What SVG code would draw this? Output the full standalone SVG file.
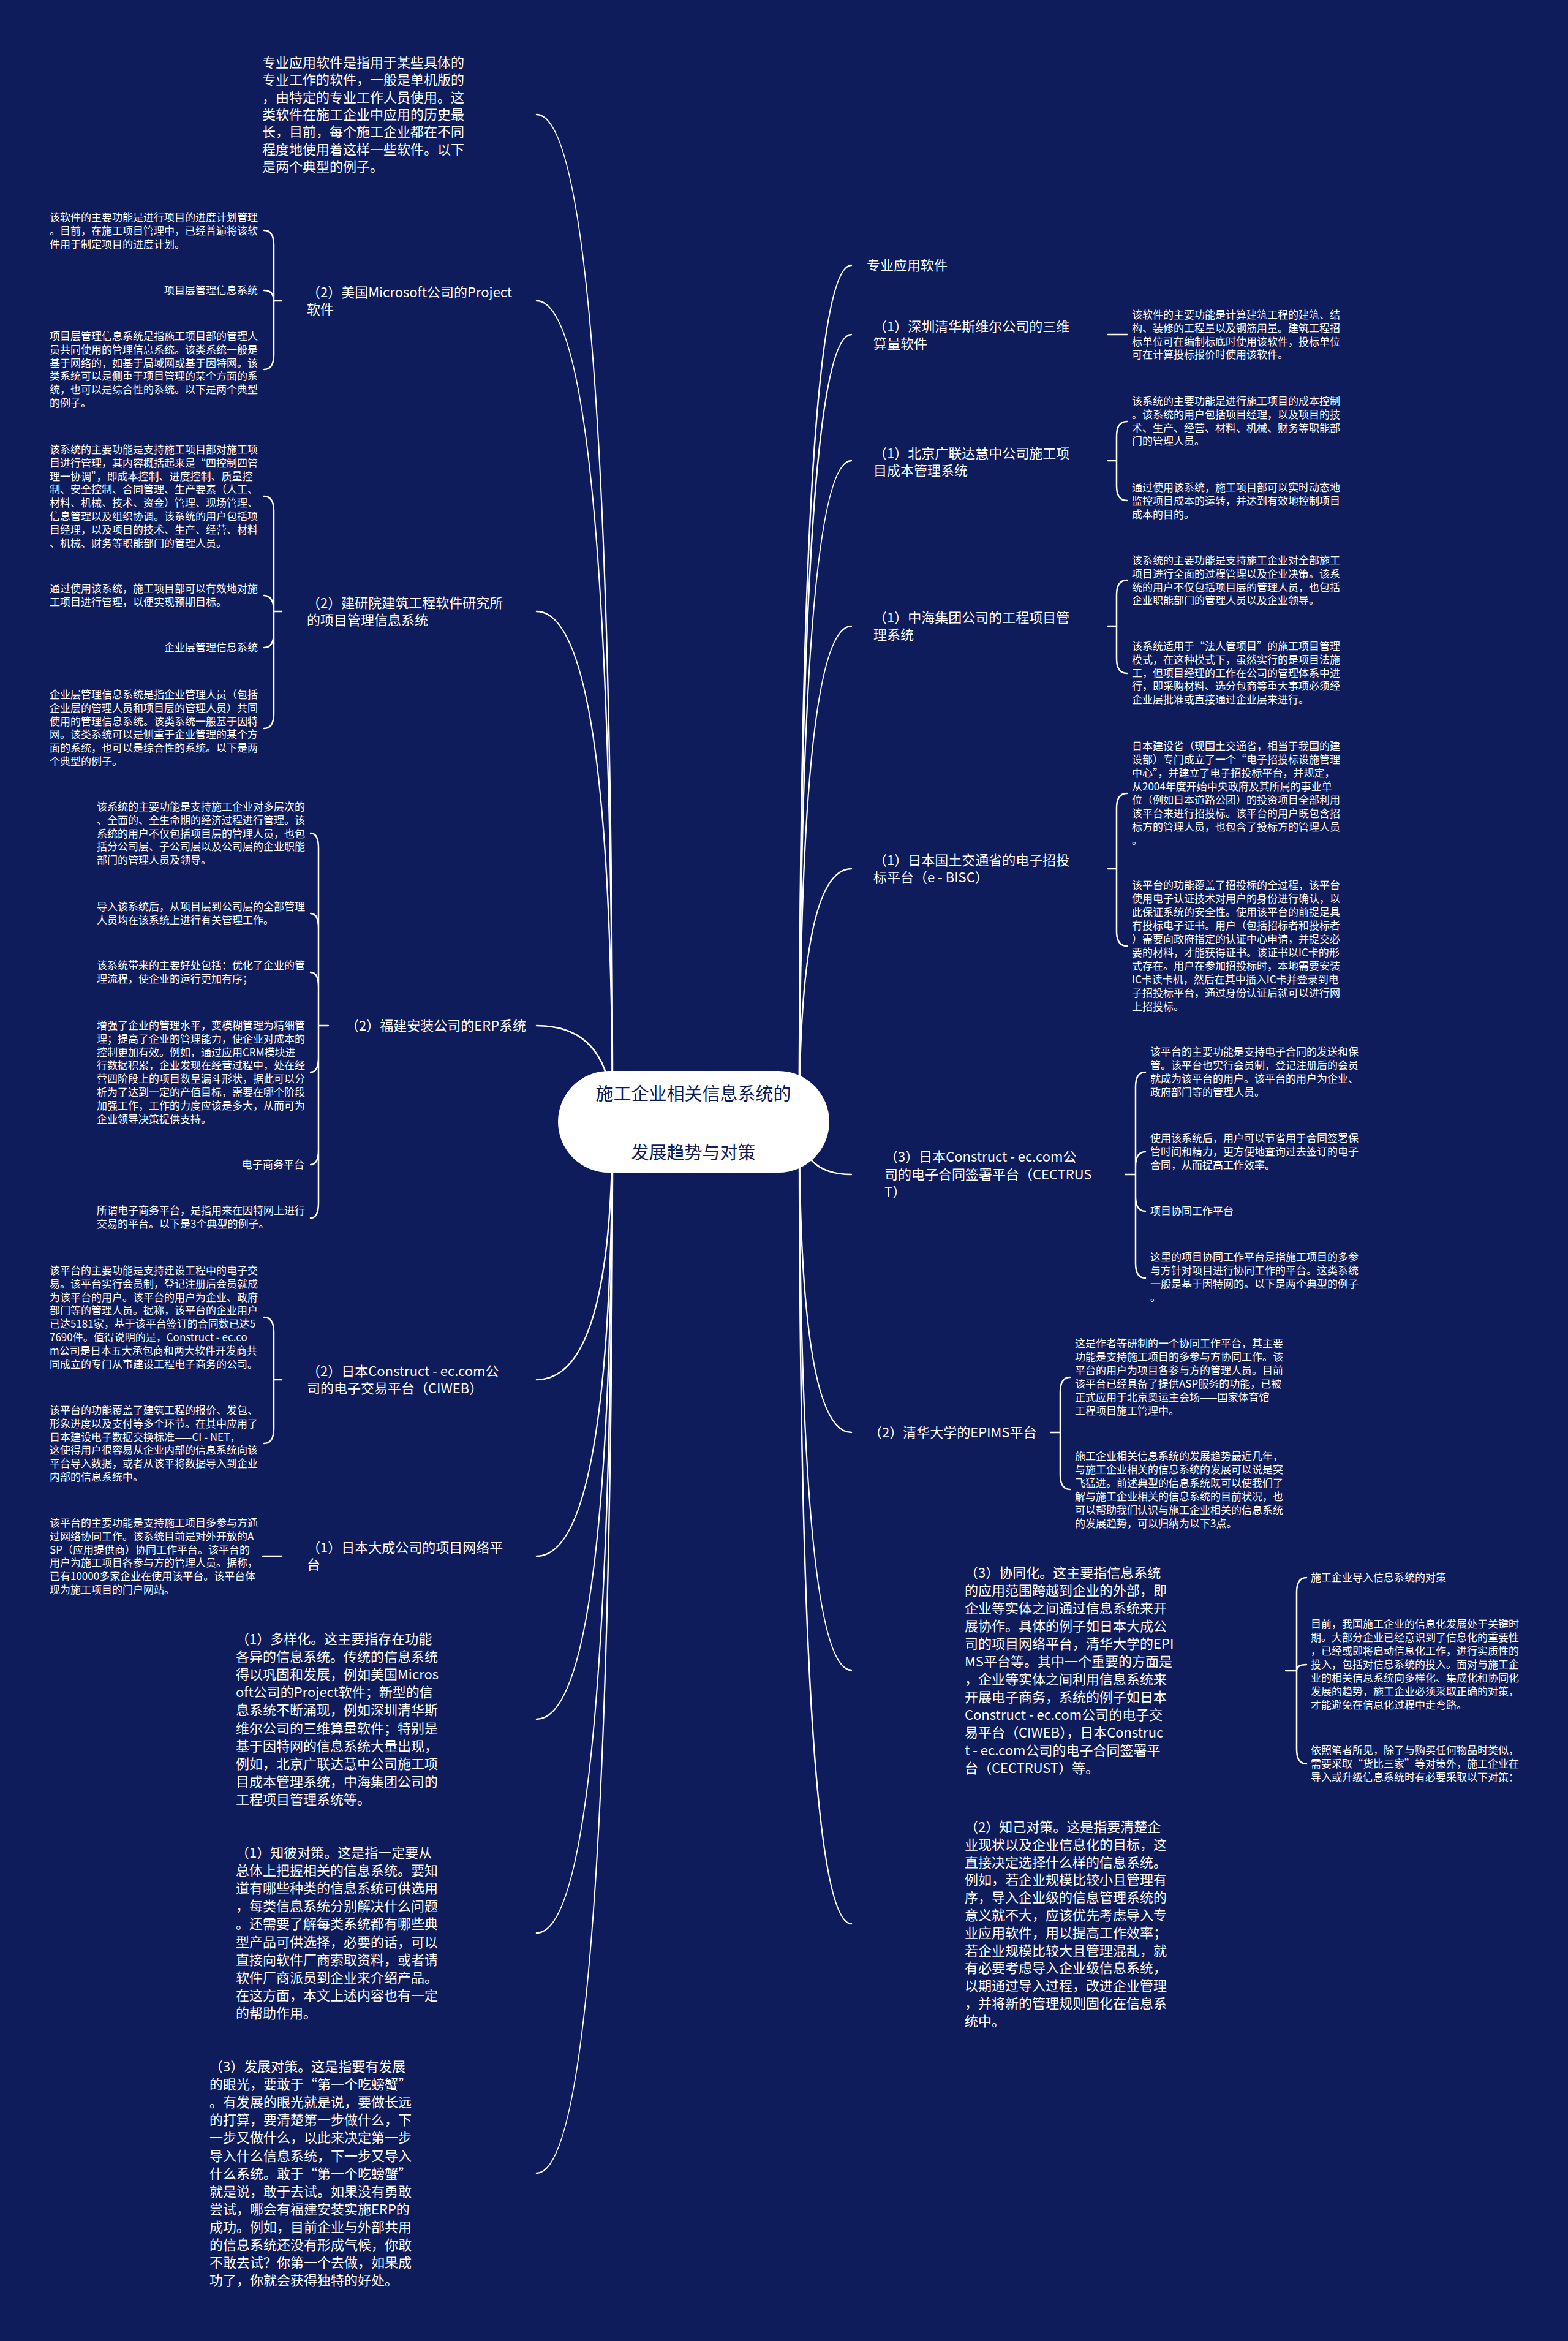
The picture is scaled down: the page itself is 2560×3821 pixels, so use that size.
<svg xmlns="http://www.w3.org/2000/svg" width="2560" height="3821" viewBox="0 0 2560 3821">
<style>
.ln{fill:none;stroke:#fff;stroke-width:2.5;stroke-linecap:round}
text{font-family:"Noto Sans CJK SC","Noto Sans",sans-serif;fill:#fff}
.s{font-size:17px}
.m{font-size:22px}
.e{text-anchor:end}
.root{font-size:29px;fill:#0e1c5b;text-anchor:middle}
</style>
<rect width="2560" height="3821" fill="#0e1c5b"/>
<g id="connectors">
<path class="ln" d="M1000,1830 Q1000,187 876,187"/>
<path class="ln" d="M1000,1830 Q1000,491 876,491"/>
<path class="ln" d="M1000,1830 Q1000,998 876,998"/>
<path class="ln" d="M1000,1830 Q1000,1674 876,1674"/>
<path class="ln" d="M1000,1830 Q1000,2252 876,2252"/>
<path class="ln" d="M1000,1830 Q1000,2540 876,2540"/>
<path class="ln" d="M1000,1830 Q1000,2806 876,2806"/>
<path class="ln" d="M1000,1830 Q1000,3155 876,3155"/>
<path class="ln" d="M1000,1830 Q1000,3547 876,3547"/>
<path class="ln" d="M1305,1830 Q1305,433 1390,433"/>
<path class="ln" d="M1305,1830 Q1305,546 1390,546"/>
<path class="ln" d="M1305,1830 Q1305,752 1390,752"/>
<path class="ln" d="M1305,1830 Q1305,1022 1390,1022"/>
<path class="ln" d="M1305,1830 Q1305,1418 1390,1418"/>
<path class="ln" d="M1305,1830 Q1305,1917 1390,1917"/>
<path class="ln" d="M1305,1830 Q1305,2338 1390,2338"/>
<path class="ln" d="M1305,1830 Q1305,2726 1390,2726"/>
<path class="ln" d="M1305,1830 Q1305,3140 1390,3140"/>
<path class="ln" d="M460,491 H447 M447,491 L447,400 Q447,376 431,376 M447,491 Q447,474 431,474 M447,491 L447,579 Q447,603 431,603"/>
<path class="ln" d="M460,998 H447 M447,998 L447,834 Q447,810 431,810 M447,998 Q447,972 431,972 M447,998 L447,1033 Q447,1057 431,1057 M447,998 L447,1165 Q447,1189 431,1189"/>
<path class="ln" d="M536,1674 H520 M520,1674 L520,1384 Q520,1360 507,1360 M520,1674 L520,1515 Q520,1491 507,1491 M520,1674 L520,1611 Q520,1587 507,1587 M520,1674 L520,1726 Q520,1750 507,1750 M520,1674 L520,1877 Q520,1901 507,1901 M520,1674 L520,1964 Q520,1988 507,1988"/>
<path class="ln" d="M460,2252 H447 M447,2252 L447,2174 Q447,2150 431,2150 M447,2252 L447,2332 Q447,2356 431,2356"/>
<path class="ln" d="M460,2540 H429"/>
<path class="ln" d="M1809,546 H1840"/>
<path class="ln" d="M1809,752 H1823 M1823,752 L1823,712 Q1823,688 1840,688 M1823,752 L1823,793 Q1823,817 1840,817"/>
<path class="ln" d="M1809,1022 H1823 M1823,1022 L1823,971 Q1823,947 1840,947 M1823,1022 L1823,1075 Q1823,1099 1840,1099"/>
<path class="ln" d="M1809,1418 H1823 M1823,1418 L1823,1319 Q1823,1295 1840,1295 M1823,1418 L1823,1520 Q1823,1544 1840,1544"/>
<path class="ln" d="M1837,1917 H1854 M1854,1917 L1854,1774 Q1854,1750 1870,1750 M1854,1917 L1854,1904 Q1854,1880 1870,1880 M1854,1917 L1854,1953 Q1854,1977 1870,1977 M1854,1917 L1854,2062 Q1854,2086 1870,2086"/>
<path class="ln" d="M1715,2338 H1731 M1731,2338 L1731,2272 Q1731,2248 1747,2248 M1731,2338 L1731,2407 Q1731,2431 1747,2431"/>
<path class="ln" d="M2099,2727 H2117 M2117,2727 L2117,2599 Q2117,2575 2133,2575 M2117,2727 Q2117,2717 2133,2717 M2117,2727 L2117,2855 Q2117,2879 2133,2879"/>
</g>

<g id="root">
<rect x="911" y="1748" width="443" height="166" rx="83" fill="#fff"/>
<text class="root" x="1132" y="1796">施工企业相关信息系统的</text>
<text class="root" x="1132" y="1892">发展趋势与对策</text>
</g>

<g id="n-top">
<text class="m" x="428" y="110"><tspan x="428">专业应用软件是指用于某些具体的</tspan><tspan x="428" dy="28.3">专业工作的软件，一般是单机版的</tspan><tspan x="428" dy="28.3">，由特定的专业工作人员使用。这</tspan><tspan x="428" dy="28.3">类软件在施工企业中应用的历史最</tspan><tspan x="428" dy="28.3">长，目前，每个施工企业都在不同</tspan><tspan x="428" dy="28.3">程度地使用着这样一些软件。以下</tspan><tspan x="428" dy="28.3">是两个典型的例子。</tspan></text>
</g>

<g id="n-ms">
<text class="m" x="501" y="485"><tspan x="501">（2）美国Microsoft公司的Project</tspan><tspan x="501" dy="28">软件</tspan></text>
<text class="s" x="81" y="361"><tspan x="81">该软件的主要功能是进行项目的进度计划管理</tspan><tspan x="81" dy="21.8">。目前，在施工项目管理中，已经普遍将该软</tspan><tspan x="81" dy="21.8">件用于制定项目的进度计划。</tspan></text>
<text class="s e" x="421" y="480">项目层管理信息系统</text>
<text class="s" x="81" y="555"><tspan x="81">项目层管理信息系统是指施工项目部的管理人</tspan><tspan x="81" dy="21.8">员共同使用的管理信息系统。该类系统一般是</tspan><tspan x="81" dy="21.8">基于网络的，如基于局域网或基于因特网。该</tspan><tspan x="81" dy="21.8">类系统可以是侧重于项目管理的某个方面的系</tspan><tspan x="81" dy="21.8">统，也可以是综合性的系统。以下是两个典型</tspan><tspan x="81" dy="21.8">的例子。</tspan></text>
</g>

<g id="n-jy">
<text class="m" x="501" y="992"><tspan x="501">（2）建研院建筑工程软件研究所</tspan><tspan x="501" dy="28">的项目管理信息系统</tspan></text>
<text class="s" x="81" y="740"><tspan x="81">该系统的主要功能是支持施工项目部对施工项</tspan><tspan x="81" dy="21.8">目进行管理，其内容概括起来是“四控制四管</tspan><tspan x="81" dy="21.8">理一协调”，即成本控制、进度控制、质量控</tspan><tspan x="81" dy="21.8">制、安全控制、合同管理、生产要素（人工、</tspan><tspan x="81" dy="21.8">材料、机械、技术、资金）管理、现场管理、</tspan><tspan x="81" dy="21.8">信息管理以及组织协调。该系统的用户包括项</tspan><tspan x="81" dy="21.8">目经理，以及项目的技术、生产、经营、材料</tspan><tspan x="81" dy="21.8">、机械、财务等职能部门的管理人员。</tspan></text>
<text class="s" x="81" y="967"><tspan x="81">通过使用该系统，施工项目部可以有效地对施</tspan><tspan x="81" dy="21.8">工项目进行管理，以便实现预期目标。</tspan></text>
<text class="s e" x="421" y="1063">企业层管理信息系统</text>
<text class="s" x="81" y="1140"><tspan x="81">企业层管理信息系统是指企业管理人员（包括</tspan><tspan x="81" dy="21.8">企业层的管理人员和项目层的管理人员）共同</tspan><tspan x="81" dy="21.8">使用的管理信息系统。该类系统一般基于因特</tspan><tspan x="81" dy="21.8">网。该类系统可以是侧重于企业管理的某个方</tspan><tspan x="81" dy="21.8">面的系统，也可以是综合性的系统。以下是两</tspan><tspan x="81" dy="21.8">个典型的例子。</tspan></text>
</g>

<g id="n-erp">
<text class="m" x="564" y="1682">（2）福建安装公司的ERP系统</text>
<text class="s" x="158" y="1323"><tspan x="158">该系统的主要功能是支持施工企业对多层次的</tspan><tspan x="158" dy="21.8">、全面的、全生命期的经济过程进行管理。该</tspan><tspan x="158" dy="21.8">系统的用户不仅包括项目层的管理人员，也包</tspan><tspan x="158" dy="21.8">括分公司层、子公司层以及公司层的企业职能</tspan><tspan x="158" dy="21.8">部门的管理人员及领导。</tspan></text>
<text class="s" x="158" y="1486"><tspan x="158">导入该系统后，从项目层到公司层的全部管理</tspan><tspan x="158" dy="21.8">人员均在该系统上进行有关管理工作。</tspan></text>
<text class="s" x="158" y="1582"><tspan x="158">该系统带来的主要好处包括：优化了企业的管</tspan><tspan x="158" dy="21.8">理流程，使企业的运行更加有序；</tspan></text>
<text class="s" x="158" y="1680"><tspan x="158">增强了企业的管理水平，变模糊管理为精细管</tspan><tspan x="158" dy="21.8">理；提高了企业的管理能力，使企业对成本的</tspan><tspan x="158" dy="21.8">控制更加有效。例如，通过应用CRM模块进</tspan><tspan x="158" dy="21.8">行数据积累，企业发现在经营过程中，处在经</tspan><tspan x="158" dy="21.8">营四阶段上的项目数呈漏斗形状，据此可以分</tspan><tspan x="158" dy="21.8">析为了达到一定的产值目标，需要在哪个阶段</tspan><tspan x="158" dy="21.8">加强工作，工作的力度应该是多大，从而可为</tspan><tspan x="158" dy="21.8">企业领导决策提供支持。</tspan></text>
<text class="s e" x="497" y="1907">电子商务平台</text>
<text class="s" x="158" y="1982"><tspan x="158">所谓电子商务平台，是指用来在因特网上进行</tspan><tspan x="158" dy="21.8">交易的平台。以下是3个典型的例子。</tspan></text>
</g>

<g id="n-ciweb">
<text class="m" x="501" y="2246"><tspan x="501">（2）日本Construct - ec.com公</tspan><tspan x="501" dy="28">司的电子交易平台（CIWEB）</tspan></text>
<text class="s" x="81" y="2080"><tspan x="81">该平台的主要功能是支持建设工程中的电子交</tspan><tspan x="81" dy="21.8">易。该平台实行会员制，登记注册后会员就成</tspan><tspan x="81" dy="21.8">为该平台的用户。该平台的用户为企业、政府</tspan><tspan x="81" dy="21.8">部门等的管理人员。据称，该平台的企业用户</tspan><tspan x="81" dy="21.8">已达5181家，基于该平台签订的合同数已达5</tspan><tspan x="81" dy="21.8">7690件。值得说明的是，Construct - ec.co</tspan><tspan x="81" dy="21.8">m公司是日本五大承包商和两大软件开发商共</tspan><tspan x="81" dy="21.8">同成立的专门从事建设工程电子商务的公司。</tspan></text>
<text class="s" x="81" y="2308"><tspan x="81">该平台的功能覆盖了建筑工程的报价、发包、</tspan><tspan x="81" dy="21.8">形象进度以及支付等多个环节。在其中应用了</tspan><tspan x="81" dy="21.8">日本建设电子数据交换标准——CI - NET，</tspan><tspan x="81" dy="21.8">这使得用户很容易从企业内部的信息系统向该</tspan><tspan x="81" dy="21.8">平台导入数据，或者从该平将数据导入到企业</tspan><tspan x="81" dy="21.8">内部的信息系统中。</tspan></text>
</g>

<g id="n-dc">
<text class="m" x="501" y="2534"><tspan x="501">（1）日本大成公司的项目网络平</tspan><tspan x="501" dy="28">台</tspan></text>
<text class="s" x="81" y="2492"><tspan x="81">该平台的主要功能是支持施工项目多参与方通</tspan><tspan x="81" dy="21.8">过网络协同工作。该系统目前是对外开放的A</tspan><tspan x="81" dy="21.8">SP（应用提供商）协同工作平台。该平台的</tspan><tspan x="81" dy="21.8">用户为施工项目各参与方的管理人员。据称，</tspan><tspan x="81" dy="21.8">已有10000多家企业在使用该平台。该平台体</tspan><tspan x="81" dy="21.8">现为施工项目的门户网站。</tspan></text>
</g>

<g id="n-dyh">
<text class="m" x="385" y="2683"><tspan x="385">（1）多样化。这主要指存在功能</tspan><tspan x="385" dy="29.1">各异的信息系统。传统的信息系统</tspan><tspan x="385" dy="29.1">得以巩固和发展，例如美国Micros</tspan><tspan x="385" dy="29.1">oft公司的Project软件；新型的信</tspan><tspan x="385" dy="29.1">息系统不断涌现，例如深圳清华斯</tspan><tspan x="385" dy="29.1">维尔公司的三维算量软件；特别是</tspan><tspan x="385" dy="29.1">基于因特网的信息系统大量出现，</tspan><tspan x="385" dy="29.1">例如，北京广联达慧中公司施工项</tspan><tspan x="385" dy="29.1">目成本管理系统，中海集团公司的</tspan><tspan x="385" dy="29.1">工程项目管理系统等。</tspan></text>
</g>

<g id="n-zb">
<text class="m" x="385" y="3032"><tspan x="385">（1）知彼对策。这是指一定要从</tspan><tspan x="385" dy="29.1">总体上把握相关的信息系统。要知</tspan><tspan x="385" dy="29.1">道有哪些种类的信息系统可供选用</tspan><tspan x="385" dy="29.1">，每类信息系统分别解决什么问题</tspan><tspan x="385" dy="29.1">。还需要了解每类系统都有哪些典</tspan><tspan x="385" dy="29.1">型产品可供选择，必要的话，可以</tspan><tspan x="385" dy="29.1">直接向软件厂商索取资料，或者请</tspan><tspan x="385" dy="29.1">软件厂商派员到企业来介绍产品。</tspan><tspan x="385" dy="29.1">在这方面，本文上述内容也有一定</tspan><tspan x="385" dy="29.1">的帮助作用。</tspan></text>
</g>

<g id="n-fz">
<text class="m" x="342" y="3381"><tspan x="342">（3）发展对策。这是指要有发展</tspan><tspan x="342" dy="29.1">的眼光，要敢于“第一个吃螃蟹”</tspan><tspan x="342" dy="29.1">。有发展的眼光就是说，要做长远</tspan><tspan x="342" dy="29.1">的打算，要清楚第一步做什么，下</tspan><tspan x="342" dy="29.1">一步又做什么，以此来决定第一步</tspan><tspan x="342" dy="29.1">导入什么信息系统，下一步又导入</tspan><tspan x="342" dy="29.1">什么系统。敢于“第一个吃螃蟹”</tspan><tspan x="342" dy="29.1">就是说，敢于去试。如果没有勇敢</tspan><tspan x="342" dy="29.1">尝试，哪会有福建安装实施ERP的</tspan><tspan x="342" dy="29.1">成功。例如，目前企业与外部共用</tspan><tspan x="342" dy="29.1">的信息系统还没有形成气候，你敢</tspan><tspan x="342" dy="29.1">不敢去试？你第一个去做，如果成</tspan><tspan x="342" dy="29.1">功了，你就会获得独特的好处。</tspan></text>
</g>

<g id="n-zy">
<text class="m" x="1415" y="441">专业应用软件</text>
</g>

<g id="n-sz">
<text class="m" x="1426" y="541"><tspan x="1426">（1）深圳清华斯维尔公司的三维</tspan><tspan x="1426" dy="28">算量软件</tspan></text>
<text class="s" x="1848" y="520"><tspan x="1848">该软件的主要功能是计算建筑工程的建筑、结</tspan><tspan x="1848" dy="21.8">构、装修的工程量以及钢筋用量。建筑工程招</tspan><tspan x="1848" dy="21.8">标单位可在编制标底时使用该软件，投标单位</tspan><tspan x="1848" dy="21.8">可在计算投标报价时使用该软件。</tspan></text>
</g>

<g id="n-bj">
<text class="m" x="1426" y="748"><tspan x="1426">（1）北京广联达慧中公司施工项</tspan><tspan x="1426" dy="28">目成本管理系统</tspan></text>
<text class="s" x="1848" y="661"><tspan x="1848">该系统的主要功能是进行施工项目的成本控制</tspan><tspan x="1848" dy="21.8">。该系统的用户包括项目经理，以及项目的技</tspan><tspan x="1848" dy="21.8">术、生产、经营、材料、机械、财务等职能部</tspan><tspan x="1848" dy="21.8">门的管理人员。</tspan></text>
<text class="s" x="1848" y="802"><tspan x="1848">通过使用该系统，施工项目部可以实时动态地</tspan><tspan x="1848" dy="21.8">监控项目成本的运转，并达到有效地控制项目</tspan><tspan x="1848" dy="21.8">成本的目的。</tspan></text>
</g>

<g id="n-zh">
<text class="m" x="1426" y="1016"><tspan x="1426">（1）中海集团公司的工程项目管</tspan><tspan x="1426" dy="28">理系统</tspan></text>
<text class="s" x="1848" y="921"><tspan x="1848">该系统的主要功能是支持施工企业对全部施工</tspan><tspan x="1848" dy="21.8">项目进行全面的过程管理以及企业决策。该系</tspan><tspan x="1848" dy="21.8">统的用户不仅包括项目层的管理人员，也包括</tspan><tspan x="1848" dy="21.8">企业职能部门的管理人员以及企业领导。</tspan></text>
<text class="s" x="1848" y="1061"><tspan x="1848">该系统适用于“法人管项目”的施工项目管理</tspan><tspan x="1848" dy="21.8">模式，在这种模式下，虽然实行的是项目法施</tspan><tspan x="1848" dy="21.8">工，但项目经理的工作在公司的管理体系中进</tspan><tspan x="1848" dy="21.8">行，即采购材料、选分包商等重大事项必须经</tspan><tspan x="1848" dy="21.8">企业层批准或直接通过企业层来进行。</tspan></text>
</g>

<g id="n-gt">
<text class="m" x="1426" y="1412"><tspan x="1426">（1）日本国土交通省的电子招投</tspan><tspan x="1426" dy="28">标平台（e - BISC）</tspan></text>
<text class="s" x="1848" y="1224"><tspan x="1848">日本建设省（现国土交通省，相当于我国的建</tspan><tspan x="1848" dy="22">设部）专门成立了一个“电子招投标设施管理</tspan><tspan x="1848" dy="22">中心”，并建立了电子招投标平台，并规定，</tspan><tspan x="1848" dy="22">从2004年度开始中央政府及其所属的事业单</tspan><tspan x="1848" dy="22">位（例如日本道路公团）的投资项目全部利用</tspan><tspan x="1848" dy="22">该平台来进行招投标。该平台的用户既包含招</tspan><tspan x="1848" dy="22">标方的管理人员，也包含了投标方的管理人员</tspan><tspan x="1848" dy="22">。</tspan></text>
<text class="s" x="1848" y="1451"><tspan x="1848">该平台的功能覆盖了招投标的全过程，该平台</tspan><tspan x="1848" dy="22">使用电子认证技术对用户的身份进行确认，以</tspan><tspan x="1848" dy="22">此保证系统的安全性。使用该平台的前提是具</tspan><tspan x="1848" dy="22">有投标电子证书。用户（包括招标者和投标者</tspan><tspan x="1848" dy="22">）需要向政府指定的认证中心申请，并提交必</tspan><tspan x="1848" dy="22">要的材料，才能获得证书。该证书以IC卡的形</tspan><tspan x="1848" dy="22">式存在。用户在参加招投标时，本地需要安装</tspan><tspan x="1848" dy="22">IC卡读卡机，然后在其中插入IC卡并登录到电</tspan><tspan x="1848" dy="22">子招投标平台，通过身份认证后就可以进行网</tspan><tspan x="1848" dy="22">上招投标。</tspan></text>
</g>

<g id="n-ce">
<text class="m" x="1444" y="1896"><tspan x="1444">（3）日本Construct - ec.com公</tspan><tspan x="1444" dy="28.5">司的电子合同签署平台（CECTRUS</tspan><tspan x="1444" dy="28.5">T）</tspan></text>
<text class="s" x="1878" y="1723"><tspan x="1878">该平台的主要功能是支持电子合同的发送和保</tspan><tspan x="1878" dy="22">管。该平台也实行会员制，登记注册后的会员</tspan><tspan x="1878" dy="22">就成为该平台的用户。该平台的用户为企业、</tspan><tspan x="1878" dy="22">政府部门等的管理人员。</tspan></text>
<text class="s" x="1878" y="1864"><tspan x="1878">使用该系统后，用户可以节省用于合同签署保</tspan><tspan x="1878" dy="22">管时间和精力，更方便地查询过去签订的电子</tspan><tspan x="1878" dy="22">合同，从而提高工作效率。</tspan></text>
<text class="s" x="1878" y="1983">项目协同工作平台</text>
<text class="s" x="1878" y="2058"><tspan x="1878">这里的项目协同工作平台是指施工项目的多参</tspan><tspan x="1878" dy="22">与方针对项目进行协同工作的平台。这类系统</tspan><tspan x="1878" dy="22">一般是基于因特网的。以下是两个典型的例子</tspan><tspan x="1878" dy="22">。</tspan></text>
</g>

<g id="n-ep">
<text class="m" x="1418" y="2346">（2）清华大学的EPIMS平台</text>
<text class="s" x="1755" y="2199"><tspan x="1755">这是作者等研制的一个协同工作平台，其主要</tspan><tspan x="1755" dy="22">功能是支持施工项目的多参与方协同工作。该</tspan><tspan x="1755" dy="22">平台的用户为项目各参与方的管理人员。目前</tspan><tspan x="1755" dy="22">该平台已经具备了提供ASP服务的功能，已被</tspan><tspan x="1755" dy="22">正式应用于北京奥运主会场——国家体育馆</tspan><tspan x="1755" dy="22">工程项目施工管理中。</tspan></text>
<text class="s" x="1755" y="2383"><tspan x="1755">施工企业相关信息系统的发展趋势最近几年，</tspan><tspan x="1755" dy="22">与施工企业相关的信息系统的发展可以说是突</tspan><tspan x="1755" dy="22">飞猛进。前述典型的信息系统既可以使我们了</tspan><tspan x="1755" dy="22">解与施工企业相关的信息系统的目前状况，也</tspan><tspan x="1755" dy="22">可以帮助我们认识与施工企业相关的信息系统</tspan><tspan x="1755" dy="22">的发展趋势，可以归纳为以下3点。</tspan></text>
</g>

<g id="n-xt">
<text class="m" x="1575" y="2575"><tspan x="1575">（3）协同化。这主要指信息系统</tspan><tspan x="1575" dy="29">的应用范围跨越到企业的外部，即</tspan><tspan x="1575" dy="29">企业等实体之间通过信息系统来开</tspan><tspan x="1575" dy="29">展协作。具体的例子如日本大成公</tspan><tspan x="1575" dy="29">司的项目网络平台，清华大学的EPI</tspan><tspan x="1575" dy="29">MS平台等。其中一个重要的方面是</tspan><tspan x="1575" dy="29">，企业等实体之间利用信息系统来</tspan><tspan x="1575" dy="29">开展电子商务，系统的例子如日本</tspan><tspan x="1575" dy="29">Construct - ec.com公司的电子交</tspan><tspan x="1575" dy="29">易平台（CIWEB），日本Construc</tspan><tspan x="1575" dy="29">t - ec.com公司的电子合同签署平</tspan><tspan x="1575" dy="29">台（CECTRUST）等。</tspan></text>
<text class="s" x="2140" y="2581">施工企业导入信息系统的对策</text>
<text class="s" x="2140" y="2657"><tspan x="2140">目前，我国施工企业的信息化发展处于关键时</tspan><tspan x="2140" dy="22">期。大部分企业已经意识到了信息化的重要性</tspan><tspan x="2140" dy="22">，已经或即将启动信息化工作，进行实质性的</tspan><tspan x="2140" dy="22">投入，包括对信息系统的投入。面对与施工企</tspan><tspan x="2140" dy="22">业的相关信息系统向多样化、集成化和协同化</tspan><tspan x="2140" dy="22">发展的趋势，施工企业必须采取正确的对策，</tspan><tspan x="2140" dy="22">才能避免在信息化过程中走弯路。</tspan></text>
<text class="s" x="2140" y="2863"><tspan x="2140">依照笔者所见，除了与购买任何物品时类似，</tspan><tspan x="2140" dy="22">需要采取“货比三家”等对策外，施工企业在</tspan><tspan x="2140" dy="22">导入或升级信息系统时有必要采取以下对策：</tspan></text>
</g>

<g id="n-zj">
<text class="m" x="1575" y="2990"><tspan x="1575">（2）知己对策。这是指要清楚企</tspan><tspan x="1575" dy="28.8">业现状以及企业信息化的目标，这</tspan><tspan x="1575" dy="28.8">直接决定选择什么样的信息系统。</tspan><tspan x="1575" dy="28.8">例如，若企业规模比较小且管理有</tspan><tspan x="1575" dy="28.8">序，导入企业级的信息管理系统的</tspan><tspan x="1575" dy="28.8">意义就不大，应该优先考虑导入专</tspan><tspan x="1575" dy="28.8">业应用软件，用以提高工作效率；</tspan><tspan x="1575" dy="28.8">若企业规模比较大且管理混乱，就</tspan><tspan x="1575" dy="28.8">有必要考虑导入企业级信息系统，</tspan><tspan x="1575" dy="28.8">以期通过导入过程，改进企业管理</tspan><tspan x="1575" dy="28.8">，并将新的管理规则固化在信息系</tspan><tspan x="1575" dy="28.8">统中。</tspan></text>
</g>
</svg>
